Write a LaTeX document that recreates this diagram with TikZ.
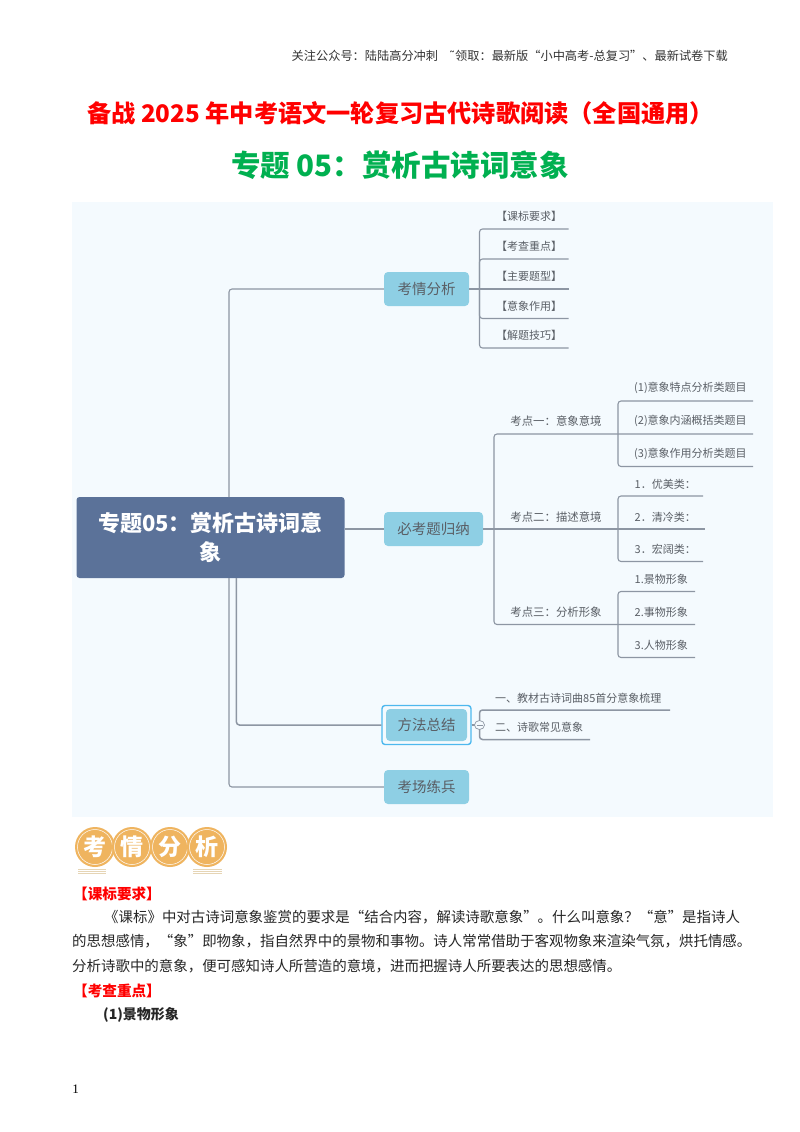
\documentclass[tikz,border=0pt]{standalone}
\usepackage{fontspec}
\usetikzlibrary{shapes.geometric}
\setmainfont{Noto Sans CJK SC}
\newfontfamily\latinb{Liberation Serif}
\newfontfamily\symf{DejaVu Sans}
\definecolor{bgpane}{HTML}{F4FAFE}
\definecolor{rootc}{HTML}{5B7299}
\definecolor{topicc}{HTML}{8ECFE4}
\definecolor{linec}{HTML}{8D96A3}
\definecolor{seltc}{HTML}{4DB8EE}
\definecolor{txtc}{HTML}{5A5F66}
\definecolor{orangec}{HTML}{EFB45F}
\definecolor{stripec}{HTML}{E6D5B5}
\definecolor{titleg}{HTML}{00B050}
\tikzset{
  conn/.style={draw=linec,line width=1.1pt,rounded corners=3pt},
  connb/.style={conn,line width=1.5pt},
  roothead/.style={fill=rootc,rounded corners=3pt,text=white,font=\fontsize{22}{29}\selectfont\bfseries,align=center,minimum width=268pt,minimum height=81pt,inner sep=0pt},
  topic/.style={fill=topicc,rounded corners=4pt,text=txtc,font=\fontsize{14.5}{17}\selectfont,minimum height=34pt,inner sep=0pt},
  leaf/.style={text=txtc,font=\fontsize{11}{13}\selectfont,inner sep=0pt},
  kdleaf/.style={leaf,font=\fontsize{11.4}{13}\selectfont},
  bodyt/.style={anchor=west,inner sep=0pt,text=black!85,font=\fontsize{14.45}{16}\selectfont},
  redh/.style={anchor=west,inner sep=0pt,text=red,font=\fontsize{14.6}{16}\selectfont\bfseries},
  logoc/.style={circle,fill=orangec,minimum size=40pt,inner sep=0pt,text=white,font=\fontsize{23}{23}\selectfont\bfseries},
}
\begin{document}
\begin{tikzpicture}[x=1pt,y=-1pt]
\useasboundingbox (0,0) rectangle (800,1132);
\fill[white] (0,0) rectangle (800,1132);
% header
\node[anchor=east,inner sep=0pt,text=black!80,font=\fontsize{12.2}{13}\selectfont] (hdr) at (728,56) {关注公众号：陆陆高分冲刺\ \ \ \ {\symf ˜}领取：最新版“小中高考-总复习”、最新试卷下载};
\node[inner sep=0pt,text=red,font=\fontsize{24.2}{28}\selectfont\bfseries] (ttl) at (400.5,113) {备战 2025 年中考语文一轮复习古代诗歌阅读（全国通用）};
\node[inner sep=0pt,text=titleg,font=\fontsize{29.5}{34}\selectfont\bfseries] (sub) at (400,165) {专题 05：赏析古诗词意象};
% pane
\fill[bgpane] (72,202) rectangle (773,817);
% nodes
\node[roothead] (root) at (210.5,537.5) {专题05：赏析古诗词意\\象};
\node[topic,minimum width=85pt] (kq) at (426.5,289) {考情分析};
\node[topic,minimum width=99pt] (bk) at (433.5,529) {必考题归纳};
\node[draw=seltc,line width=1.4pt,rounded corners=3pt,minimum width=89pt,minimum height=39pt,inner sep=0pt] (ffsel) at (426.5,725) {};
\node[topic,minimum width=81pt,minimum height=32pt] (ff) at (426.5,725) {方法总结};
\node[topic,minimum width=85pt] (kc) at (426.5,787) {考场练兵};
% root connectors
\coordinate (ra) at (229,497);
\coordinate (rb) at (236.4,578);
\coordinate (rc) at (229,578);
\draw[conn] (ra) |- (kq.west);
\draw[conn] (root.east |- bk.west) -- (bk.west);
\draw[connb] (rb) |- (ffsel.west);
\draw[conn] (rc) |- (kc.west);
% kaoqing leaves
\foreach \n/\y/\t in {a/216.5/【课标要求】,b/246/【考查重点】,c/276/【主要题型】,d/306/【意象作用】,e/335.5/【解题技巧】}
  \node[leaf] (kq\n) at (529,\y) {\t};
\foreach \n/\y in {a/229,b/259,c/289,d/318.5,e/348}
  \coordinate (kqe\n) at (568.5,\y);
\coordinate (kqj) at (479.5,289);
\draw[conn] (kq.east) -- (kqec);
\draw[conn] (kqj) |- (kqea);
\draw[conn] (kqj) |- (kqeb);
\draw[conn] (kqj) |- (kqed);
\draw[conn] (kqj) |- (kqee);
% bikao level 2
\node[kdleaf] (kd1) at (556,421) {考点一：意象意境};
\node[kdleaf] (kd2) at (556,517) {考点二：描述意境};
\node[kdleaf] (kd3) at (556,612) {考点三：分析形象};
\coordinate (bj) at (494,529);
\coordinate (l1e) at (753,434);
\coordinate (l2e) at (705,529);
\coordinate (l3e) at (695,624.5);
\draw[conn] (bk.east) -- (l2e);
\draw[conn] (bj) |- (l1e);
\draw[conn] (bj) |- (l3e);
% level 3 group 1
\foreach \n/\y/\t in {a/388/(1)意象特点分析类题目,b/421/(2)意象内涵概括类题目,c/454/(3)意象作用分析类题目}
  \node[leaf,anchor=west] (g1\n) at (634,\y) {\t};
\coordinate (g1j) at (618,434);
\coordinate (g1ta) at (753,401);
\coordinate (g1tc) at (753,466.5);
\draw[conn] (g1j) |- (g1ta);
\draw[conn] (g1j) |- (g1tc);
% group 2
\foreach \n/\y/\t in {a/484/1．优美类：,b/517/2．清冷类：,c/549.5/3．宏阔类：}
  \node[leaf,anchor=west] (g2\n) at (634.5,\y) {\t};
\coordinate (g2j) at (618,529);
\coordinate (g2ta) at (703,496);
\coordinate (g2tc) at (703,561.5);
\draw[conn] (g2j) |- (g2ta);
\draw[conn] (g2j) |- (g2tc);
% group 3
\foreach \n/\y/\t in {a/579/1.景物形象,b/612/2.事物形象,c/645/3.人物形象}
  \node[leaf,anchor=west] (g3\n) at (634.5,\y) {\t};
\coordinate (g3j) at (618,624.5);
\coordinate (g3ta) at (695,591.5);
\coordinate (g3tc) at (695,657.5);
\draw[conn] (g3j) |- (g3ta);
\draw[conn] (g3j) |- (g3tc);
% fangfa leaves
\node[leaf,anchor=west] (f1) at (495,698) {一、教材古诗词曲85首分意象梳理};
\node[leaf,anchor=west] (f2) at (495,727) {二、诗歌常见意象};
\coordinate (fj) at (479.5,725);
\coordinate (fa) at (670,710);
\coordinate (fb) at (590,739.5);
\draw[connb] (fj) |- (fa);
\draw[connb] (fj) |- (fb);
\draw[conn] (ffsel.east) -- (fj);
\node[draw=linec,fill=bgpane,line width=.7pt,ellipse,minimum width=10pt,minimum height=9pt,inner sep=0pt] (fm) at (fj) {};
\draw[linec,line width=.7pt] ([xshift=-3pt]fm.center) -- ([xshift=3pt]fm.center);
% logo
\foreach \n/\x/\t in {a/95/考,b/132/情,c/170/分,d/207/析}{
  \node[logoc] (lg\n) at (\x,847) {\t};
  \draw[white,line width=.5pt] (lg\n.center) circle (17.5pt);
}
\foreach \y in {869.5,871.5,873.5}{
  \draw[stripec,line width=1.2pt] (78,\y) -- (106,\y);
  \draw[stripec,line width=1.2pt] (193,\y) -- (222,\y);
}
% body text
\node[redh] (h1) at (73,894) {【课标要求】};
\node[bodyt] (p1) at (104,917) {《课标》中对古诗词意象鉴赏的要求是“结合内容，解读诗歌意象”。什么叫意象？“意”是指诗人};
\node[bodyt] (p2) at (72,941) {的思想感情，“象”即物象，指自然界中的景物和事物。诗人常常借助于客观物象来渲染气氛，烘托情感。};
\node[bodyt] (p3) at (72,966) {分析诗歌中的意象，便可感知诗人所营造的意境，进而把握诗人所要表达的思想感情。};
\node[redh] (h2) at (73,991) {【考查重点】};
\node[bodyt,font=\fontsize{14}{16}\selectfont\bfseries] (p4) at (103,1015) {(1)景物形象};
\node[anchor=center,inner sep=0pt,font=\fontsize{13}{15}\latinb] (pg) at (75.5,1089) {1};
\end{tikzpicture}
\end{document}
